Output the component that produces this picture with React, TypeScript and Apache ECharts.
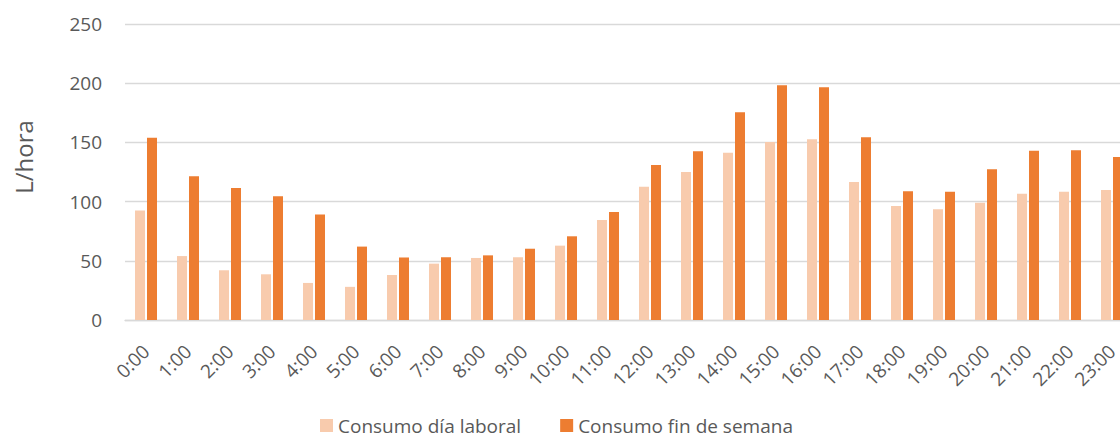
import React, { useEffect, useRef } from "react";
import * as echarts from "echarts";

const categories = [
  "0:00", "1:00", "2:00", "3:00", "4:00", "5:00", "6:00", "7:00", "8:00", "9:00", "10:00", "11:00",
  "12:00", "13:00", "14:00", "15:00", "16:00", "17:00", "18:00", "19:00", "20:00", "21:00", "22:00", "23:00",
];
const laboral = [
  92.5, 54, 42, 38.6, 31.3, 28, 38, 47.6, 52.4, 53, 62.8, 84.5,
  112.6, 125, 141.3, 150.3, 152.6, 116.6, 96.3, 93.5, 99.1, 106.7, 108.4, 109.8,
];
const finSemana = [
  154, 121.5, 111.4, 104.6, 89, 62, 52.8, 53, 54.6, 60.2, 70.7, 91.2,
  130.9, 142.5, 175.4, 198.2, 196.5, 154.3, 108.7, 108.4, 127.3, 143, 143.3, 137.7,
];
const seriesNames = ["Consumo día laboral", "Consumo fin de semana"];
const yTitle = "L/hora";

const FONT = "'Open Sans', 'DejaVu Sans', sans-serif";
const TEXT = "#595959";
const GRID = "#D9D9D9";

export default function App() {
  const ref = useRef<HTMLDivElement>(null);
  useEffect(() => {
    if (!ref.current) return;
    const chart = echarts.init(ref.current, undefined, { renderer: "svg" });
    chart.setOption({
      animation: false,
      backgroundColor: "#ffffff",
      textStyle: { fontFamily: FONT, color: TEXT },
      grid: { left: 125, right: 0, top: 24, bottom: 119, containLabel: false },
      legend: {
        left: 320,
        top: 416,
        padding: 0,
        icon: "rect",
        itemWidth: 13,
        itemHeight: 13,
        itemGap: 39,
        textStyle: { fontFamily: FONT, fontSize: 19, color: TEXT, lineHeight: 19 },
        data: seriesNames,
      },
      graphic: [
        {
          type: "text",
          x: 23,
          y: 157,
          rotation: Math.PI / 2,
          style: {
            text: yTitle,
            fontFamily: FONT,
            fontSize: 24,
            fill: TEXT,
            textAlign: "center",
            textVerticalAlign: "middle",
          },
        },
      ],
      xAxis: {
        type: "category",
        data: categories,
        axisLine: { show: true, lineStyle: { color: GRID, width: 1.3 } },
        axisTick: { show: false },
        axisLabel: {
          rotate: 45,
          interval: 0,
          margin: 28,
          fontFamily: FONT,
          fontSize: 19,
          color: TEXT,
        },
      },
      yAxis: {
        type: "value",
        min: 0,
        max: 250,
        interval: 50,
        axisLine: { show: false },
        axisTick: { show: false },
        splitLine: { show: true, lineStyle: { color: GRID, width: 1.3 } },
        axisLabel: { margin: 23, fontFamily: FONT, fontSize: 19, color: TEXT },
      },
      series: [
        {
          name: seriesNames[0],
          type: "bar",
          data: laboral,
          barWidth: 10,
          barGap: "20%",
          itemStyle: { color: "#F8CBAD" },
        },
        {
          name: seriesNames[1],
          type: "bar",
          data: finSemana,
          barWidth: 10,
          barGap: "20%",
          itemStyle: { color: "#ED7D31" },
        },
      ],
    });
    return () => chart.dispose();
  }, []);
  return (
    <div
      style={{ position: "fixed", left: 0, top: 0, width: 1120, height: 439, overflow: "hidden", background: "#fff" }}
    >
      <div ref={ref} style={{ width: 1133, height: 439 }} />
    </div>
  );
}
